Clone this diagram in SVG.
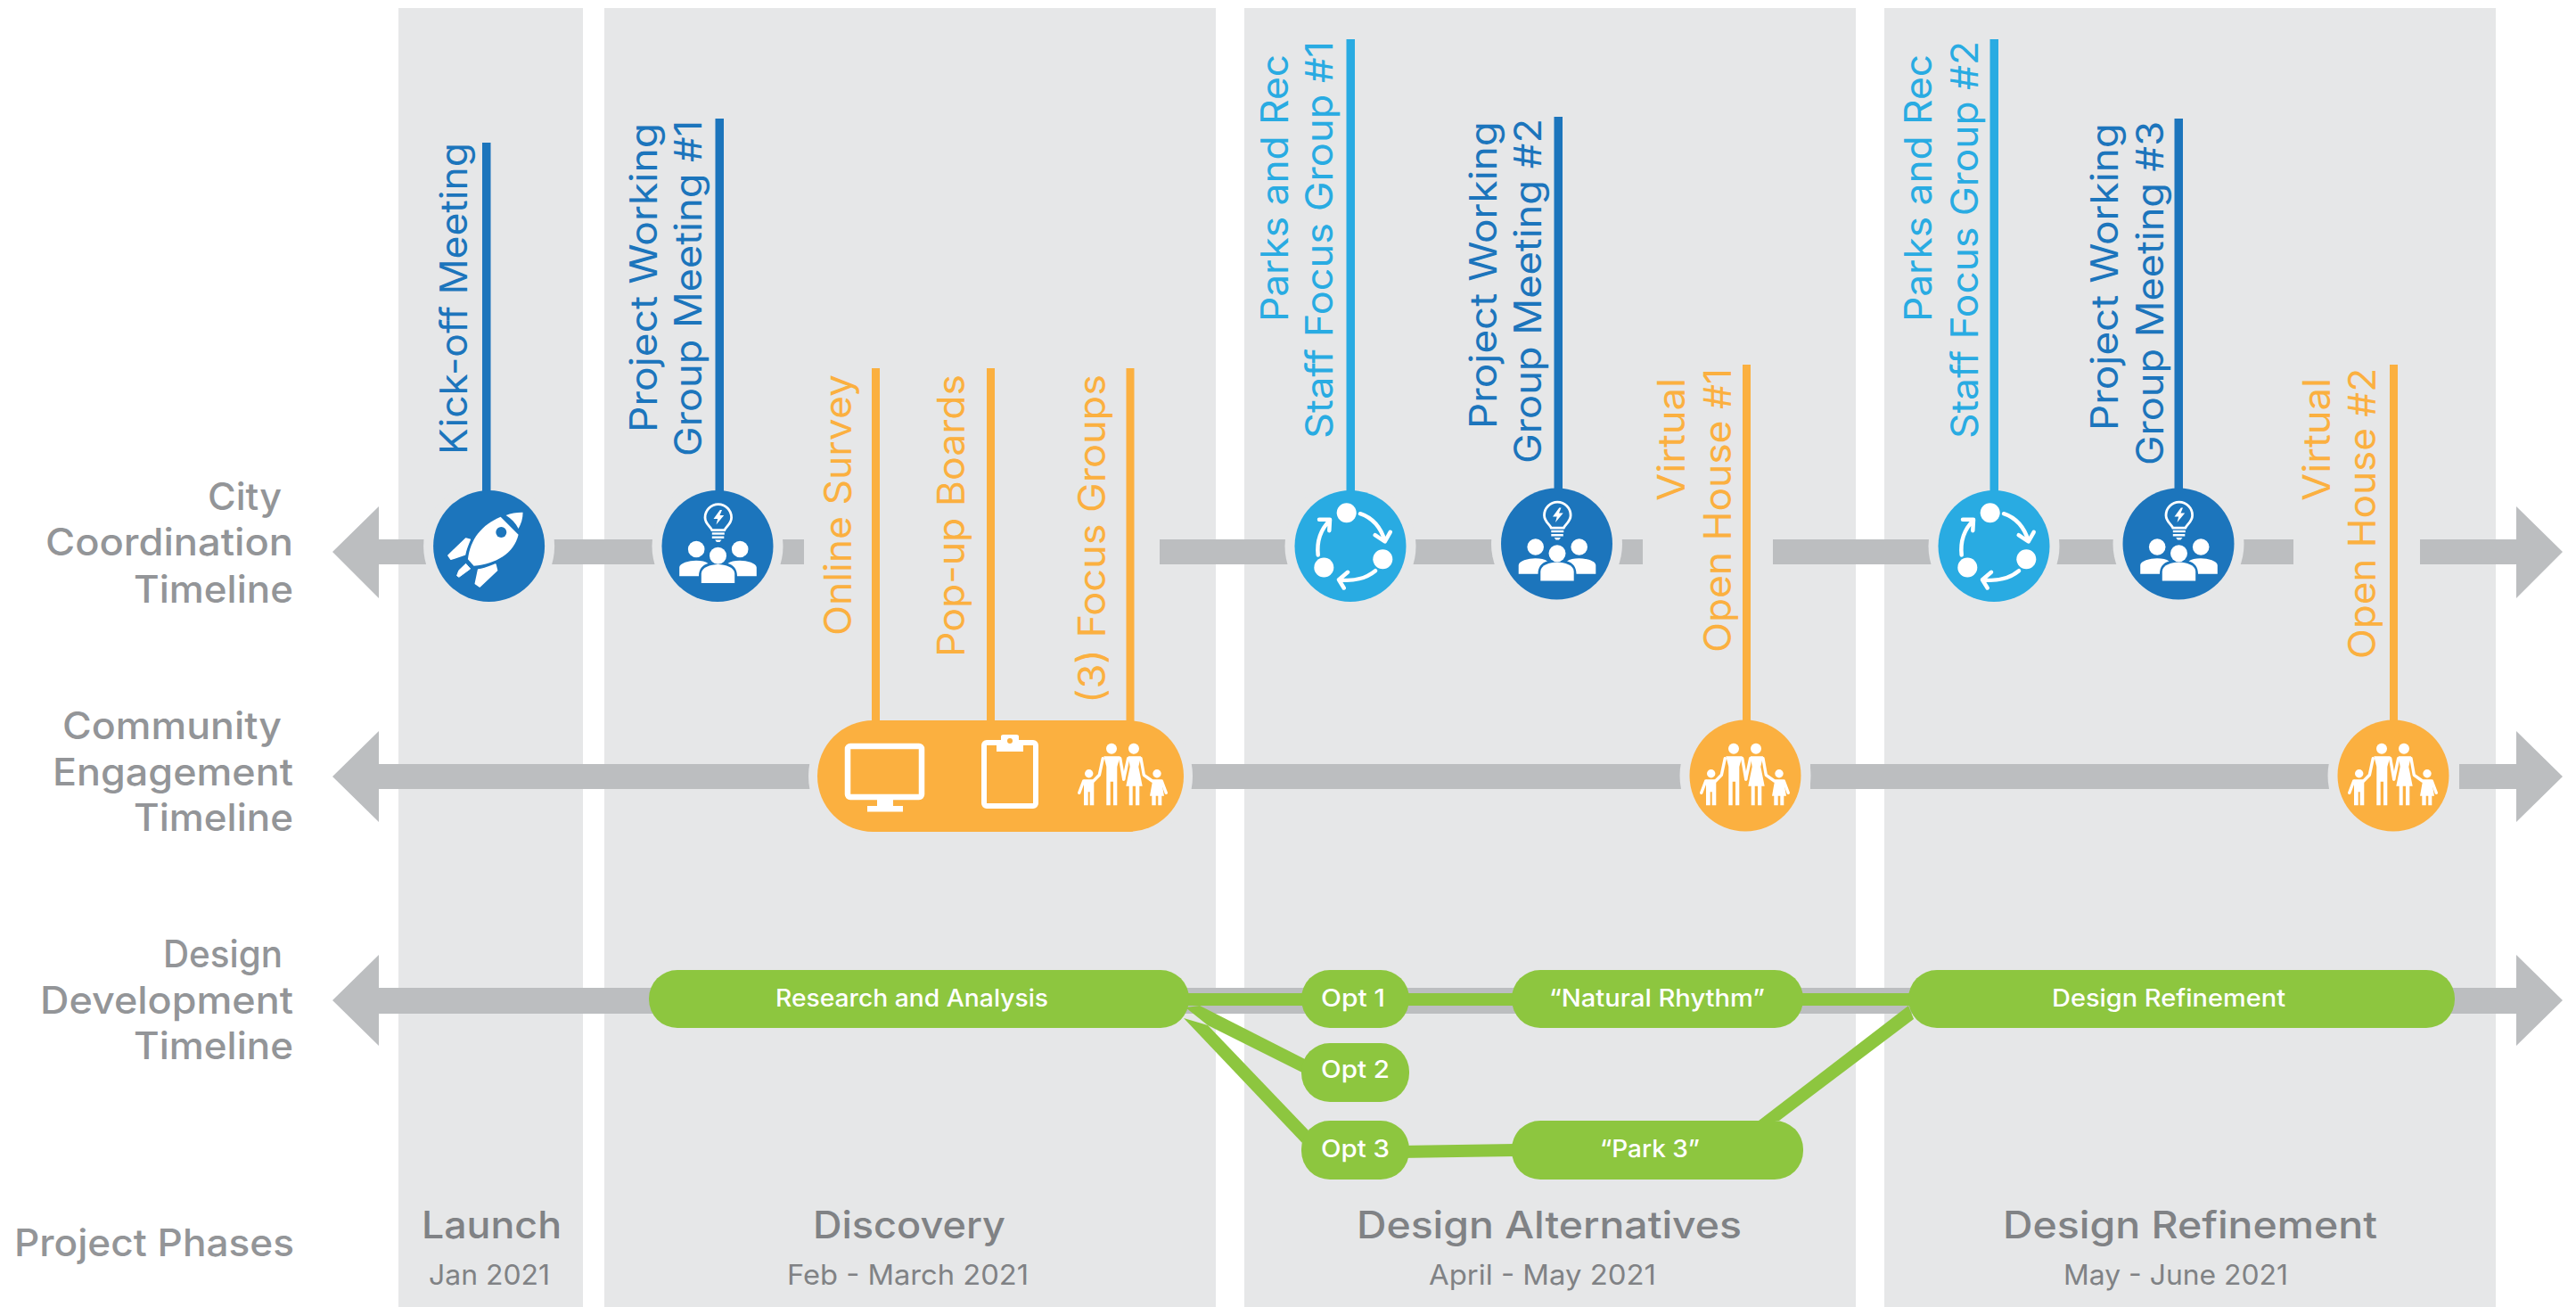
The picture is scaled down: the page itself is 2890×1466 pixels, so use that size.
<svg xmlns="http://www.w3.org/2000/svg" width="2890" height="1466" viewBox="0 0 2890 1466">
<style>
text{font-family:Inter,"Noto Sans","Liberation Sans",sans-serif}
.panel{fill:#E6E7E8}
.shaft{fill:#BCBEC0}
.halo{fill:#E6E7E8}
.blue{fill:#1C75BC}.sky{fill:#29ABE2}.org{fill:#FBB040}.grn{fill:#8DC63F}
.tblue{fill:#1C75BC;font-size:42px}.tsky{fill:#29ABE2;font-size:42px}.torg{fill:#FBB040;font-size:42px}
.row{fill:#939598;font-size:42px;font-weight:500}
.ph{fill:#808285;font-size:42px;font-weight:500}
.sub{fill:#808285;font-size:31px}
.gt{fill:#fff;font-size:27px;font-weight:500}
.wl{fill:none;stroke:#fff;stroke-width:4.5;stroke-linecap:round;stroke-linejoin:round}
.arm{fill:none;stroke:#fff;stroke-width:3.4;stroke-linecap:round;stroke-linejoin:round}
.w{fill:#fff}
</style>
<defs>
<symbol id="rocket" overflow="visible">
<path class="w" d="M13-32.800 L33-12.800 C28 8 8 20-17 22.200 L-23.700 14.800 C-21-8-8-24 13-32.800Z"/>
<circle cx="13.700" cy="-15.500" r="6" fill="#1C75BC"/>
<path class="w" d="M19-34.500 C25-37 32-38 38-37.800 C38-31 36-25 33-19.500 C30-26 25-31 19-34.500Z"/>
<path class="w" stroke="#fff" stroke-width="1.500" stroke-linejoin="round" d="M-26-8.500 L-21.300-7.200 C-24-1-26 4-27 9.500 L-42.700 14.800 L-45.700 10.500Z"/>
<path class="w" stroke="#fff" stroke-width="1.500" stroke-linejoin="round" d="M7.300 20.500 L9 27.200 L-10.300 45.500 L-15.300 42.200 L-12 26.500 C-6 26 1 23 7.300 20.500Z"/>
<path class="w" stroke="#fff" stroke-width="1" stroke-linejoin="round" d="M-26 19.800 L-21 25.500 L-33.700 34.800 L-36 33.200 L-33.700 27.200Z"/>
</symbol>
<symbol id="team" overflow="visible">
<path fill="none" stroke="#fff" stroke-width="2.800" d="M-6.200-17.800 C-8-22-14-25-14-32 A14.200 14.200 0 0 1 15.600-32 C15.600-25 9.600-22 7.800-17.800Z"/>
<path class="w" d="M2.800-40.500 L-4.500-30.500 L0.200-30.500 L-1.500-24 L7.200-34.500 L2.500-34.500 L5-40.500Z"/>
<rect class="w" x="-6.200" y="-15.200" width="14" height="2.400"/>
<rect class="w" x="-6.200" y="-11" width="13.500" height="2.500"/>
<path class="w" d="M-2.800-7 H4.500 L2.500-4.500 H-1Z"/>
<circle class="w" cx="-23.800" cy="3.500" r="9.300"/><circle class="w" cx="25.200" cy="3.500" r="9.300"/><circle class="w" cx="0.500" cy="10.800" r="9.500"/>
<path class="w" d="M-18.200 41.500 V31 C-18.200 24-8 20.500 0.500 20.500 C9 20.500 19.200 24 19.200 31 V41.500Z"/>
<path class="w" d="M-42.800 33.800 V24 C-42.800 19-32 16.200-24 16.200 C-18 16.200-13.500 17.200-10.500 19.500 C-17 21-21 26-21 33.800Z"/>
<path class="w" d="M43.800 33.800 V24 C43.800 19 33 16.200 25 16.200 C19 16.200 14.500 17.200 11.500 19.500 C18 21 22 26 22 33.800Z"/>
</symbol>
<symbol id="cycle" overflow="visible">
<circle class="w" cx="-4.300" cy="-37.300" r="11"/><circle class="w" cx="36.300" cy="14.700" r="11"/><circle class="w" cx="-29.700" cy="24" r="11"/>
<path class="wl" d="M11-36.300 C24-32 34-21 38.700-5.700 M27.700-12.300 L38.700-5 L44.700-15.700"/>
<path class="wl" d="M28 27.700 C18 36 3 40-13 37.700 M-3 29.300 L-13 37.700 L-7.300 47"/>
<path class="wl" d="M-36.300 10 C-38-6-33-19-23-29 M-35-29.700 L-23-29.700 L-23.700-17.300"/>
</symbol>
<symbol id="family" overflow="visible">
<circle class="w" cx="-13" cy="-29.300" r="6"/><circle class="w" cx="12" cy="-29.300" r="6"/>
<path class="w" d="M-18.700 34.300 H-14.300 V7.700 H-11 V34.300 H-6.700 V-9 L-3.300-20.700 H-21.700 L-18.700-9Z"/>
<path class="arm" d="M-22.700-18.300 L-26.700 0.300 L-33.300 7 M-3.300-18.300 L0.700 5"/>
<path class="w" d="M5.700-20.700 H20 L17.300-9 L21.700 12.700 H18.300 V34.300 H14 V12.700 H10.700 V34.300 H6.700 V12.700 H3.300 L7.700-9Z"/>
<path class="arm" d="M5.700-18.300 L0.700 5 M20-18.300 L23.300 0.300 L32.700 7"/>
<circle class="w" cx="-38.300" cy="-1.300" r="4.700"/><circle class="w" cx="38" cy="-1.300" r="4.700"/>
<path class="w" d="M-44 5.300 H-32.700 V34.300 H-37.300 V19.300 H-39.300 V34.300 H-44Z"/>
<path class="arm" d="M-44.300 7 L-49.300 20.300"/>
<path class="w" d="M33.300 5.300 H42.700 L46 23.700 H43.300 V34.300 H39.300 V23.700 H36.700 V34.300 H32.300 V23.700 H30Z"/>
<path class="arm" d="M43.300 7 L48.300 20.300"/>
</symbol>
</defs>
<rect width="2890" height="1466" fill="#fff"/>
<g id="phases">
<rect class="panel" x="447" y="9" width="207" height="1457"/>
<rect class="panel" x="678" y="9" width="686" height="1457"/>
<rect class="panel" x="1396" y="9" width="686" height="1457"/>
<rect class="panel" x="2114" y="9" width="686" height="1457"/>
</g>
<g id="connectors">
<g id="city-line">
<path class="shaft" d="M373 619 L425 568 V605 H520 V633 H425 V671Z"/>
<rect class="shaft" x="600" y="605" width="150" height="28"/>
<rect class="shaft" x="790" y="605" width="112" height="28"/>
<rect class="shaft" x="1301" y="605" width="200" height="28"/>
<rect class="shaft" x="1530" y="605" width="200" height="28"/>
<rect class="shaft" x="1780" y="605" width="63" height="28"/>
<rect class="shaft" x="1989" y="605" width="240" height="28"/>
<rect class="shaft" x="2250" y="605" width="180" height="28"/>
<rect class="shaft" x="2460" y="605" width="113" height="28"/>
<path class="shaft" d="M2875 619 L2823 568 V605 H2715 V633 H2823 V671Z"/>
</g>
<g id="community-line">
<path class="shaft" d="M373 871 L425 820 V857 H930 V885 H425 V922Z"/>
<rect class="shaft" x="1320" y="857" width="660" height="28"/>
<rect class="shaft" x="2031" y="857" width="660" height="28"/>
<path class="shaft" d="M2875 871 L2823 820 V857 H2759 V885 H2823 V922Z"/>
</g>
<path id="design-line" class="shaft" d="M373 1122 L425 1071 V1108 H2823 V1071 L2875 1122 L2823 1173 V1137 H425 V1173Z"/>
<g id="line-gaps">
<circle class="halo" cx="548.600" cy="612.500" r="73.500"/>
<circle class="halo" cx="805" cy="612.500" r="73.500"/>
<circle class="halo" cx="1515" cy="612.500" r="73.500"/>
<circle class="halo" cx="1746.500" cy="610" r="73.500"/>
<circle class="halo" cx="2237" cy="612.500" r="73.500"/>
<circle class="halo" cx="2444" cy="610" r="73.500"/>
<circle class="halo" cx="1958" cy="870" r="73.500"/>
<circle class="halo" cx="2685" cy="870" r="73.500"/>
<rect class="halo" x="907" y="798" width="431" height="145" rx="72"/>
</g>
<g id="stems">
<rect class="blue" x="541" y="160" width="9.500" height="400"/>
<rect class="blue" x="802.500" y="133" width="9.500" height="420"/>
<rect class="sky" x="1510.500" y="44" width="9.500" height="510"/>
<rect class="blue" x="1743.500" y="131" width="9.500" height="420"/>
<rect class="sky" x="2232.500" y="44" width="9.500" height="510"/>
<rect class="blue" x="2439.500" y="133" width="9.500" height="420"/>
<rect class="org" x="978" y="413" width="9" height="410"/>
<rect class="org" x="1107" y="413" width="9" height="410"/>
<rect class="org" x="1263.500" y="413" width="9" height="410"/>
<rect class="org" x="1955" y="409" width="9" height="420"/>
<rect class="org" x="2681" y="409" width="9" height="420"/>
</g>
<g id="design-links">
<rect class="grn" x="1330" y="1114" width="820" height="14"/>
<polygon class="grn" points="1346,1128 1464,1188 1461,1203 1355,1150 1330,1130"/>
<polygon class="grn" points="1328,1142 1355,1150 1468,1268 1461,1282"/>
<polygon class="grn" points="1570,1285 1700,1283 1700,1297 1570,1299"/>
<polygon class="grn" points="1973,1257 2141,1128 2147,1143 1996,1257"/>
</g>
</g>
<g id="node-kickoff">
<circle class="blue" cx="548.600" cy="612.500" r="62.500"/>
<use href="#rocket" x="548.600" y="612.500"/>
<text class="tblue" transform="translate(524,510) rotate(-90)" textLength="350" lengthAdjust="spacingAndGlyphs">Kick-off Meeting</text>
</g>
<g id="node-pwg1">
<circle class="blue" cx="805" cy="612.500" r="62.500"/>
<use href="#team" x="805" y="612.500"/>
<text class="tblue" transform="translate(737,485) rotate(-90)" textLength="347" lengthAdjust="spacingAndGlyphs">Project Working</text>
<text class="tblue" transform="translate(787,512) rotate(-90)" textLength="377" lengthAdjust="spacingAndGlyphs">Group Meeting #1</text>
</g>
<g id="node-discovery-engagement">
<rect class="org" x="917" y="808" width="411" height="125" rx="62.500"/>
<rect x="951" y="837" width="83" height="57" rx="3" fill="none" stroke="#fff" stroke-width="6.500"/>
<rect class="w" x="984" y="897" width="18" height="9"/><rect class="w" x="973" y="904" width="40" height="6.500"/>
<rect x="1104" y="833" width="58" height="71" rx="3" fill="none" stroke="#fff" stroke-width="6"/>
<path class="w" d="M1118 843 V830 H1123 V826 Q1123 824 1126 824 H1140 Q1143 824 1143 826 V830 H1148 V843Z"/>
<circle class="org" cx="1133" cy="831" r="3"/>
<use href="#family" x="1260" y="869"/>
<text class="torg" transform="translate(955,713) rotate(-90)" textLength="293" lengthAdjust="spacingAndGlyphs">Online Survey</text>
<text class="torg" transform="translate(1082,737) rotate(-90)" textLength="317" lengthAdjust="spacingAndGlyphs">Pop-up Boards</text>
<text class="torg" transform="translate(1240,789) rotate(-90)" textLength="369" lengthAdjust="spacingAndGlyphs">(3) Focus Groups</text>
</g>
<g id="node-parks1">
<circle class="sky" cx="1515" cy="612.500" r="62.500"/>
<use href="#cycle" x="1515" y="612.500"/>
<text class="tsky" transform="translate(1445,361) rotate(-90)" textLength="300" lengthAdjust="spacingAndGlyphs">Parks and Rec</text>
<text class="tsky" transform="translate(1495,492) rotate(-90)" textLength="446" lengthAdjust="spacingAndGlyphs">Staff Focus Group #1</text>
</g>
<g id="node-pwg2">
<circle class="blue" cx="1746.500" cy="610" r="62.500"/>
<use href="#team" x="1746.500" y="610"/>
<text class="tblue" transform="translate(1679,481) rotate(-90)" textLength="345" lengthAdjust="spacingAndGlyphs">Project Working</text>
<text class="tblue" transform="translate(1729,520) rotate(-90)" textLength="387" lengthAdjust="spacingAndGlyphs">Group Meeting #2</text>
</g>
<g id="node-openhouse1">
<circle class="org" cx="1958" cy="870" r="62.500"/>
<use href="#family" x="1958" y="869"/>
<text class="torg" transform="translate(1890,562) rotate(-90)" textLength="138" lengthAdjust="spacingAndGlyphs">Virtual</text>
<text class="torg" transform="translate(1942,732) rotate(-90)" textLength="319" lengthAdjust="spacingAndGlyphs">Open House #1</text>
</g>
<g id="node-parks2">
<circle class="sky" cx="2237" cy="612.500" r="62.500"/>
<use href="#cycle" x="2237" y="612.500"/>
<text class="tsky" transform="translate(2167,361) rotate(-90)" textLength="300" lengthAdjust="spacingAndGlyphs">Parks and Rec</text>
<text class="tsky" transform="translate(2219,492) rotate(-90)" textLength="446" lengthAdjust="spacingAndGlyphs">Staff Focus Group #2</text>
</g>
<g id="node-pwg3">
<circle class="blue" cx="2444" cy="610" r="62.500"/>
<use href="#team" x="2444" y="610"/>
<text class="tblue" transform="translate(2376,483) rotate(-90)" textLength="345" lengthAdjust="spacingAndGlyphs">Project Working</text>
<text class="tblue" transform="translate(2427,522) rotate(-90)" textLength="386" lengthAdjust="spacingAndGlyphs">Group Meeting #3</text>
</g>
<g id="node-openhouse2">
<circle class="org" cx="2685" cy="870" r="62.500"/>
<use href="#family" x="2685" y="869"/>
<text class="torg" transform="translate(2614,562) rotate(-90)" textLength="138" lengthAdjust="spacingAndGlyphs">Virtual</text>
<text class="torg" transform="translate(2665,739) rotate(-90)" textLength="326" lengthAdjust="spacingAndGlyphs">Open House #2</text>
</g>
<g id="node-research"><rect class="grn" x="728" y="1088" width="606" height="65" rx="32"/><text class="gt" x="870" y="1129" textLength="306" lengthAdjust="spacingAndGlyphs">Research and Analysis</text></g>
<g id="node-opt1"><rect class="grn" x="1460" y="1088" width="121" height="65" rx="32"/><text class="gt" x="1482" y="1129" textLength="72" lengthAdjust="spacingAndGlyphs">Opt 1</text></g>
<g id="node-opt2"><rect class="grn" x="1460" y="1170" width="121" height="66" rx="32"/><text class="gt" x="1482" y="1209" textLength="77" lengthAdjust="spacingAndGlyphs">Opt 2</text></g>
<g id="node-opt3"><rect class="grn" x="1460" y="1257" width="121" height="66" rx="32"/><text class="gt" x="1482" y="1298" textLength="77" lengthAdjust="spacingAndGlyphs">Opt 3</text></g>
<g id="node-natural"><rect class="grn" x="1696" y="1088" width="327" height="65" rx="32"/><text class="gt" x="1738" y="1129" textLength="242" lengthAdjust="spacingAndGlyphs">“Natural Rhythm”</text></g>
<g id="node-park3"><rect class="grn" x="1696" y="1257" width="327" height="66" rx="32"/><text class="gt" x="1795" y="1298" textLength="112" lengthAdjust="spacingAndGlyphs">“Park 3”</text></g>
<g id="node-refinement"><rect class="grn" x="2141" y="1088" width="613" height="65" rx="32"/><text class="gt" x="2302" y="1129" textLength="262" lengthAdjust="spacingAndGlyphs">Design Refinement</text></g>
<g id="row-labels">
<text class="row" x="233" y="572" textLength="83" lengthAdjust="spacingAndGlyphs">City</text>
<text class="row" x="51" y="623" textLength="278" lengthAdjust="spacingAndGlyphs">Coordination</text>
<text class="row" x="150" y="676" textLength="179" lengthAdjust="spacingAndGlyphs">Timeline</text>
<text class="row" x="70" y="829" textLength="246" lengthAdjust="spacingAndGlyphs">Community</text>
<text class="row" x="59" y="881" textLength="270" lengthAdjust="spacingAndGlyphs">Engagement</text>
<text class="row" x="150" y="932" textLength="179" lengthAdjust="spacingAndGlyphs">Timeline</text>
<text class="row" x="183" y="1085" textLength="134" lengthAdjust="spacingAndGlyphs">Design</text>
<text class="row" x="45" y="1137" textLength="284" lengthAdjust="spacingAndGlyphs">Development</text>
<text class="row" x="150" y="1188" textLength="179" lengthAdjust="spacingAndGlyphs">Timeline</text>
<text class="row" x="16" y="1409" textLength="314" lengthAdjust="spacingAndGlyphs">Project Phases</text>
</g>
<g id="phase-labels">
<text class="ph" x="473" y="1389" textLength="157" lengthAdjust="spacingAndGlyphs">Launch</text>
<text class="sub" x="481" y="1441" textLength="136" lengthAdjust="spacingAndGlyphs">Jan 2021</text>
<text class="ph" x="912" y="1389" textLength="216" lengthAdjust="spacingAndGlyphs">Discovery</text>
<text class="sub" x="883" y="1441" textLength="271" lengthAdjust="spacingAndGlyphs">Feb - March 2021</text>
<text class="ph" x="1522" y="1389" textLength="432" lengthAdjust="spacingAndGlyphs">Design Alternatives</text>
<text class="sub" x="1603" y="1441" textLength="255" lengthAdjust="spacingAndGlyphs">April - May 2021</text>
<text class="ph" x="2247" y="1389" textLength="420" lengthAdjust="spacingAndGlyphs">Design Refinement</text>
<text class="sub" x="2315" y="1441" textLength="252" lengthAdjust="spacingAndGlyphs">May - June 2021</text>
</g>
</svg>
